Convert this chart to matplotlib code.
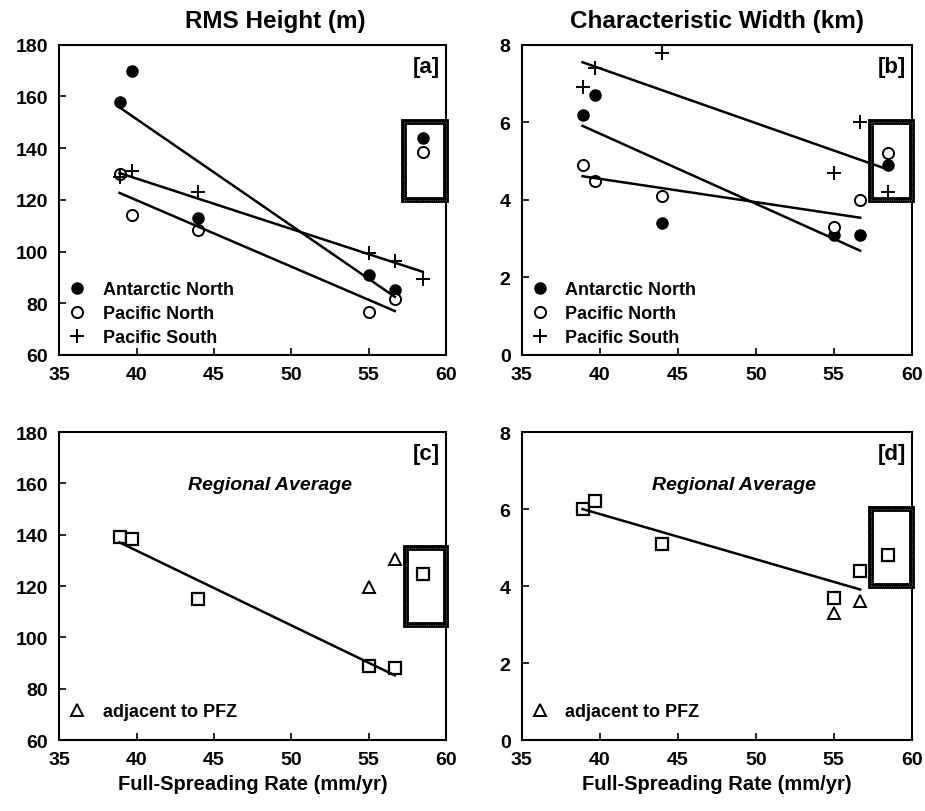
import matplotlib.pyplot as plt
from matplotlib.patches import Rectangle
from matplotlib.lines import Line2D

plt.rcParams.update({
    'font.family': ['Liberation Sans', 'DejaVu Sans'],
    'font.weight': 'bold',
    'axes.titleweight': 'bold',
    'axes.labelweight': 'bold',
    'axes.linewidth': 1.5,
    'xtick.direction': 'in',
    'ytick.direction': 'in',
    'xtick.major.size': 5,
    'ytick.major.size': 5,
    'xtick.major.width': 1.2,
    'ytick.major.width': 1.2,
    'xtick.labelsize': 14,
    'ytick.labelsize': 14,
})

# spreading rates of the ridge segments (mm/yr)
rate = [38.9, 39.7, 44.0, 55.0, 56.7, 58.5]

# [a] RMS height (m)
rms_antarctic_n = [158, 170, 113, 91, 85, 144]
rms_pacific_n = [130, 114, 108.5, 76.5, 81.5, 138.5]
rms_pacific_s = [129, 131, 123, 99.5, 96.5, 89.5]

# [b] characteristic width (km)
wid_antarctic_n = [6.2, 6.7, 3.4, 3.1, 3.1, 4.9]
wid_pacific_n = [4.9, 4.5, 4.1, 3.3, 4.0, 5.2]
wid_pacific_s = [6.9, 7.4, 7.8, 4.7, 6.0, 4.2]

# [c], [d] regional averages and segments adjacent to PFZ
rms_avg = [139, 138.5, 115, 89, 88, 124.5]
wid_avg = [6.0, 6.2, 5.1, 3.7, 4.4, 4.8]
pfz_rate = [55.0, 56.7]
rms_pfz = [119.5, 130.5]
wid_pfz = [3.3, 3.6]

# regression lines (end points)
fit_rms_an = ([38.9, 56.7], [155.8, 82.5])
fit_rms_pn = ([38.9, 56.7], [122.7, 77.0])
fit_rms_ps = ([38.9, 58.5], [130.4, 92.2])
fit_wid_an = ([38.9, 56.7], [5.91, 2.69])
fit_wid_pn = ([38.9, 56.7], [4.61, 3.54])
fit_wid_ps = ([38.9, 58.5], [7.55, 4.78])
fit_rms_avg = ([38.9, 56.7], [137.0, 85.2])
fit_wid_avg = ([38.9, 56.7], [6.0, 3.91])

# highlighted boxes (x0, x1, y0, y1)
box_a = (57.3, 60.0, 120, 150)
box_b = (57.4, 60.0, 4.0, 6.0)
box_c = (57.4, 60.0, 105, 135)
box_d = (57.4, 60.0, 4.0, 6.0)

fig = plt.figure(figsize=(9.25, 8.12), dpi=100)
ax_a = fig.add_axes([0.064, 0.5616, 0.418, 0.382])
ax_b = fig.add_axes([0.564, 0.5616, 0.4216, 0.382])
ax_c = fig.add_axes([0.064, 0.0874, 0.418, 0.3793])
ax_d = fig.add_axes([0.564, 0.0874, 0.4216, 0.3793])

line_kw = dict(color='black', lw=1.8)


def setup(ax, ylim, yticks, tag):
    ax.set_xlim(35, 60)
    ax.set_ylim(*ylim)
    ax.set_xticks([35, 40, 45, 50, 55, 60])
    ax.set_yticks(yticks)
    ax.tick_params(top=False, right=False, pad=8)
    ax.text(0.985, 0.965, tag, transform=ax.transAxes, ha='right', va='top',
            fontsize=16)


def draw_box(ax, box):
    x0, x1, y0, y1 = box
    ax.add_patch(Rectangle((x0, y0), x1 - x0, y1 - y0, fill=False,
                           ec='black', lw=4.2, clip_on=False, zorder=3))
    ax.add_patch(Rectangle((x0, y0), x1 - x0, y1 - y0, fill=False,
                           ec='white', lw=0.5, ls=(0, (0.6, 2.0)),
                           clip_on=False, zorder=4))


def region_legend(ax, handles, labels):
    ax.legend(handles, labels, loc='lower left', frameon=False,
              fontsize=13, handletextpad=0.9, labelspacing=0.38,
              borderaxespad=0.1, handlelength=1.0)


# [a]
ax = ax_a
ax.plot(rate, rms_antarctic_n, 'o', color='black', ms=8)
ax.plot(rate, rms_pacific_n, 'o', mfc='white', mec='black', mew=1.4, ms=8)
ax.plot(rate, rms_pacific_s, '+', color='black', ms=10, mew=1.4)
for fx, fy in (fit_rms_an, fit_rms_pn, fit_rms_ps):
    ax.plot(fx, fy, **line_kw)
draw_box(ax, box_a)
setup(ax, (60, 180), range(60, 181, 20), '[a]')
ax.set_title('RMS Height (m)', fontsize=17.5, pad=13, x=0.56)

# [b]
ax = ax_b
ax.plot(rate, wid_antarctic_n, 'o', color='black', ms=8)
ax.plot(rate, wid_pacific_n, 'o', mfc='white', mec='black', mew=1.4, ms=8)
ax.plot(rate, wid_pacific_s, '+', color='black', ms=10, mew=1.4)
for fx, fy in (fit_wid_an, fit_wid_pn, fit_wid_ps):
    ax.plot(fx, fy, **line_kw)
draw_box(ax, box_b)
setup(ax, (0, 8), range(0, 9, 2), '[b]')
ax.set_title('Characteristic Width (km)', fontsize=17.5, pad=13)

legend_handles = [
    Line2D([], [], marker='o', ls='', color='black', ms=8),
    Line2D([], [], marker='o', ls='', mfc='white', mec='black', mew=1.4, ms=8),
    Line2D([], [], marker='+', ls='', color='black', ms=10, mew=1.4),
]
legend_labels = ['Antarctic North', 'Pacific North', 'Pacific South']
for ax in (ax_a, ax_b):
    region_legend(ax, legend_handles, legend_labels)

# [c]
ax = ax_c
ax.plot(rate, rms_avg, 's', mfc='white', mec='black', mew=1.6, ms=9)
ax.plot(pfz_rate, rms_pfz, '^', mfc='white', mec='black', mew=1.4, ms=8)
ax.plot(*fit_rms_avg, **line_kw)
draw_box(ax, box_c)
setup(ax, (60, 180), range(60, 181, 20), '[c]')

# [d]
ax = ax_d
ax.plot(rate, wid_avg, 's', mfc='white', mec='black', mew=1.6, ms=9)
ax.plot(pfz_rate, wid_pfz, '^', mfc='white', mec='black', mew=1.4, ms=8)
ax.plot(*fit_wid_avg, **line_kw)
draw_box(ax, box_d)
setup(ax, (0, 8), range(0, 9, 2), '[d]')

pfz_handle = [Line2D([], [], marker='^', ls='', mfc='white', mec='black',
                     mew=1.4, ms=8)]
for ax in (ax_c, ax_d):
    region_legend(ax, pfz_handle, ['adjacent to PFZ'])
    ax.legend_.set_bbox_to_anchor((0.0, 0.035), transform=ax.transAxes)
    ax.text(0.545, 0.83, 'Regional Average', transform=ax.transAxes,
            ha='center', va='center', fontsize=14, style='italic')
    ax.set_xlabel('Full-Spreading Rate (mm/yr)', fontsize=14.5, labelpad=4)

fig.savefig('out.png', dpi=100)
